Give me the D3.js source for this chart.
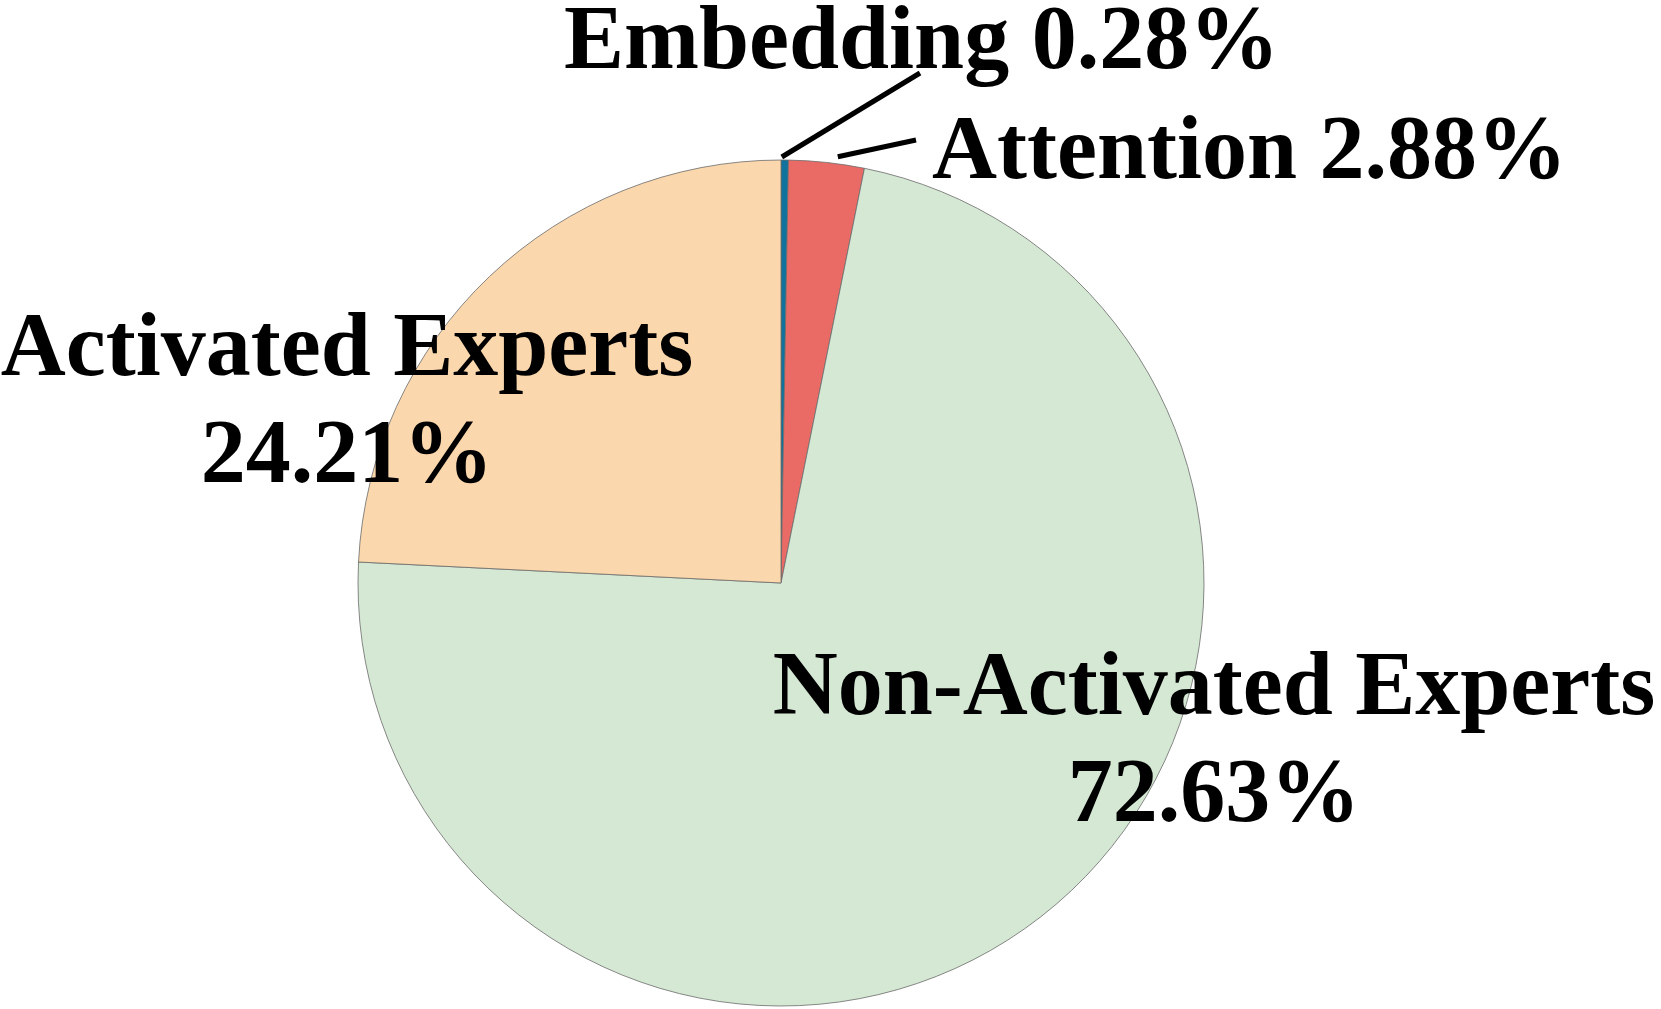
<!DOCTYPE html>
<html>
<head>
<meta charset="utf-8">
<script src="https://cdn.jsdelivr.net/npm/d3@7"></script>
<style>
  html, body { margin: 0; padding: 0; background: #ffffff; }
  svg { display: block; }
  text { font-family: "Liberation Serif", "Times New Roman", serif; font-weight: bold; }
</style>
</head>
<body>
<svg id="chart" width="1661" height="1009"></svg>
<script>
// ---- data ----
const categories = ["Embedding", "Attention", "Non-Activated Experts", "Activated Experts"];
const shares = [0.28, 2.88, 72.63, 24.21];
const colors = ["#10739e", "#ea6b66", "#d5e8d4", "#fad7ac"];

// ---- layout ----
const W = 1661, H = 1009;
const cx = 781, cy = 583, R = 423;
const fontSize = 90, lineGap = 107;

// label placement (lines: array of text lines; x,y = anchor of first baseline)
const labelLayout = [
  { anchor: "start",  x: 564,  y: 68,  lines: d => [d.name + " " + d.pct], leader: { angleOffset: -0.4, r: R + 3, end: [920, 73] } },
  { anchor: "start",  x: 932,  y: 178, lines: d => [d.name + " " + d.pct], leader: { angleOffset: 1.4, r: R + 7, end: [916, 140] } },
  { anchor: "middle", x: 1214, y: 714, lines: d => [d.name, d.pct] },
  { anchor: "middle", x: 347,  y: 375, lines: d => [d.name, d.pct] }
];

const data = categories.map((c, i) => ({ name: c, value: shares[i], pct: shares[i].toFixed(2) + "%", color: colors[i] }));

const svg = d3.select("#chart");
const g = svg.append("g").attr("transform", `translate(${cx},${cy})`);

const pie = d3.pie().sort(null).value(d => d.value);
const arc = d3.arc().innerRadius(0).outerRadius(R);
const arcs = pie(data);

g.selectAll("path.slice")
  .data(arcs)
  .join("path")
  .attr("class", "slice")
  .attr("d", arc)
  .attr("fill", d => d.data.color)
  .attr("stroke", "#6b6b6b")
  .attr("stroke-width", 0.8);

// leader lines
arcs.forEach((a, i) => {
  const L = labelLayout[i].leader;
  if (!L) return;
  const mid = (a.startAngle + a.endAngle) / 2 + L.angleOffset * Math.PI / 180;
  const x0 = cx + Math.sin(mid) * L.r;
  const y0 = cy - Math.cos(mid) * L.r;
  svg.append("line")
    .attr("x1", x0).attr("y1", y0)
    .attr("x2", L.end[0]).attr("y2", L.end[1])
    .attr("stroke", "#000").attr("stroke-width", 5);
});

// labels
arcs.forEach((a, i) => {
  const lay = labelLayout[i];
  const t = svg.append("text")
    .attr("x", lay.x).attr("y", lay.y)
    .attr("text-anchor", lay.anchor)
    .attr("font-size", fontSize)
    .attr("fill", "#000");
  lay.lines(a.data).forEach((ln, k) => {
    t.append("tspan").attr("x", lay.x).attr("y", lay.y + k * lineGap).text(ln);
  });
});
</script>
</body>
</html>
